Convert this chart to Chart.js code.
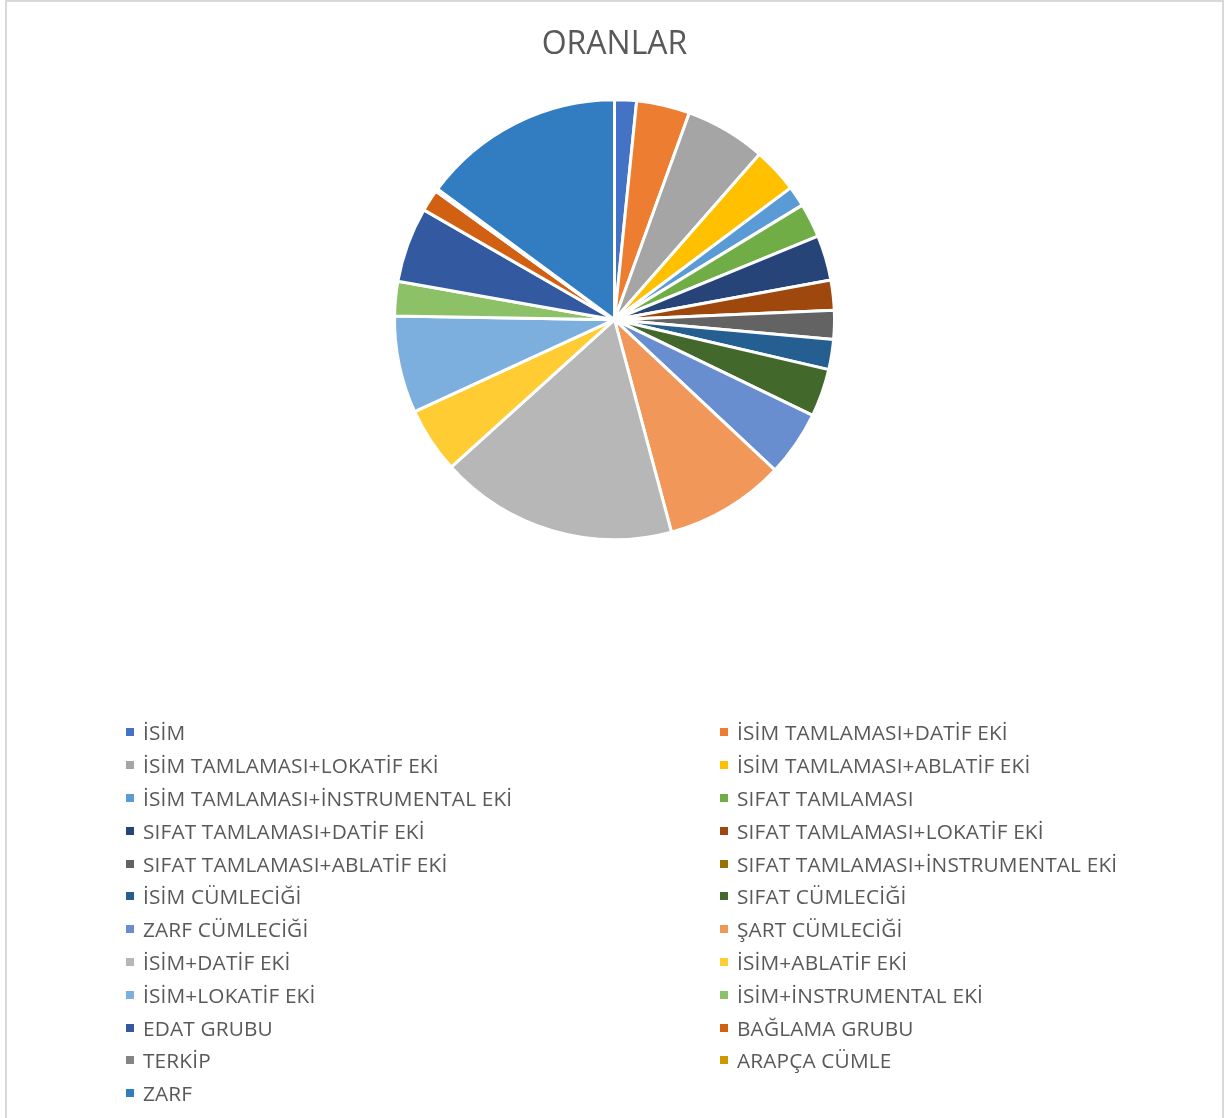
<!DOCTYPE html>
<html lang="tr">
<head>
<meta charset="utf-8">
<title>ORANLAR</title>
<script src="https://cdn.jsdelivr.net/npm/chart.js@4.4.1/dist/chart.umd.min.js"></script>
<style>
    html, body { margin: 0; padding: 0; background: #fff; }
    #wrap { position: relative; width: 1232px; height: 1118px; overflow: hidden; }
    #frame {
        position: absolute; left: 5px; top: 0; width: 1215px; height: 1130px;
        border: 2px solid #d9d9d9;
    }
    #pie { position: absolute; left: 0; top: 0; }
    #legend {
        position: absolute; left: 126px; top: 716px;
        display: grid; grid-template-columns: 594px 420px;
        grid-auto-rows: 32.8px;
        font-family: "Open Sans", sans-serif; font-size: 20.8px; color: #595959;
        letter-spacing: 0.15px;
    }
    .item { display: flex; align-items: center; white-space: nowrap; }
    .box { width: 8px; height: 8px; margin-right: 9px; flex: none; }
</style>
</head>
<body>
<div id="wrap">
    <div id="frame"></div>
    <canvas id="pie" width="1232" height="1118"></canvas>
    <div id="legend"></div>
</div>
<script>
// --- Data (percent) ---
const categories = [
    'İSİM', 'İSİM TAMLAMASI+DATİF EKİ',
    'İSİM TAMLAMASI+LOKATİF EKİ', 'İSİM TAMLAMASI+ABLATİF EKİ',
    'İSİM TAMLAMASI+İNSTRUMENTAL EKİ', 'SIFAT TAMLAMASI',
    'SIFAT TAMLAMASI+DATİF EKİ', 'SIFAT TAMLAMASI+LOKATİF EKİ',
    'SIFAT TAMLAMASI+ABLATİF EKİ', 'SIFAT TAMLAMASI+İNSTRUMENTAL EKİ',
    'İSİM CÜMLECİĞİ', 'SIFAT CÜMLECİĞİ',
    'ZARF CÜMLECİĞİ', 'ŞART CÜMLECİĞİ',
    'İSİM+DATİF EKİ', 'İSİM+ABLATİF EKİ',
    'İSİM+LOKATİF EKİ', 'İSİM+İNSTRUMENTAL EKİ',
    'EDAT GRUBU', 'BAĞLAMA GRUBU',
    'TERKİP', 'ARAPÇA CÜMLE',
    'ZARF'
];
const ratios = [
    1.6, 3.9, 5.9, 3.3, 1.5, 2.5, 3.3, 2.2, 2.1, 0,
    2.2, 3.5, 4.8, 8.8, 17.4, 4.8, 7.1, 2.5, 5.5, 1.6,
    0.2, 0, 14.8
];
const sliceColors = [
    '#4472C4', '#ED7D31', '#A5A5A5', '#FFC000', '#5B9BD5', '#70AD47',
    '#264478', '#9E480E', '#636363', '#997300', '#255E91', '#43682B',
    '#698ED0', '#F1975A', '#B7B7B7', '#FFCD33', '#7CAFDD', '#8CC168',
    '#335AA1', '#D26012', '#848484', '#CC9A00', '#327DC1'
];

// --- Chart ---
const ctx = document.getElementById('pie').getContext('2d');
const pieChart = new Chart(ctx, {
    type: 'pie',
    data: {
        labels: categories,
        datasets: [{
            data: ratios,
            backgroundColor: sliceColors,
            borderColor: '#ffffff',
            borderWidth: 3
        }]
    },
    options: {
        responsive: false,
        animation: false,
        radius: 220,
        layout: { padding: { left: 0, right: 3, top: 0, bottom: 553 } },
        plugins: {
            legend: { display: false },
            tooltip: { enabled: false },
            title: {
                display: true,
                text: 'ORANLAR',
                color: '#595959',
                font: { family: '"Open Sans", sans-serif', size: 32, weight: 'normal' },
                padding: { top: 26, bottom: 10 }
            }
        }
    }
});

// --- Legend (two columns, like the original) ---
const legendEl = document.getElementById('legend');
categories.forEach((name, i) => {
    const item = document.createElement('div');
    item.className = 'item';
    item.innerHTML = '<span class="box" style="background:' + sliceColors[i] + '"></span><span>' + name + '</span>';
    legendEl.appendChild(item);
});
</script>
</body>
</html>
